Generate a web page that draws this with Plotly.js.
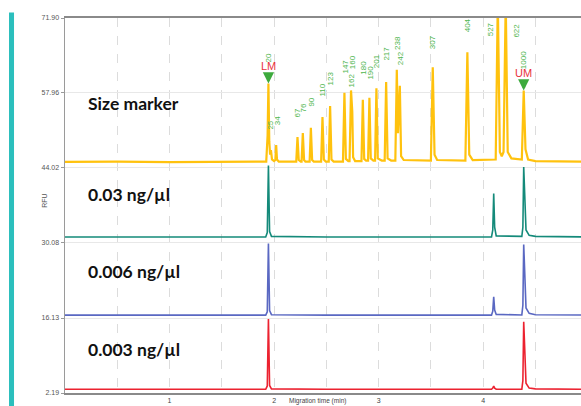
<!DOCTYPE html>
<html>
<head>
<meta charset="utf-8">
<script src="https://cdn.plot.ly/plotly-3.0.1.min.js"></script>
<style>html,body{margin:0;padding:0;background:#fff;}#chart{width:581px;height:406px;}</style>
</head>
<body>
<div id="chart"></div>
<script>
// ---- Data ----
// Size marker trace (yellow): migration time (min) and RFU
var markerTime = [0, 0.5, 1.0, 1.5, 1.9, 1.925, 1.938, 1.946, 1.954, 1.962, 1.970, 1.980, 2.000, 2.012, 2.020, 2.028, 2.045,
  2.212, 2.224, 2.236, 2.255, 2.263, 2.275, 2.287, 2.300, 2.340, 2.352, 2.364, 2.380, 2.450, 2.463, 2.476, 2.495,
  2.523, 2.536, 2.549, 2.570, 2.659, 2.673, 2.687, 2.710, 2.722, 2.736, 2.748, 2.756, 2.775, 2.836, 2.849, 2.862, 2.880,
  2.899, 2.912, 2.925, 2.950, 2.966, 2.979, 2.992, 3.030, 3.058, 3.072, 3.086, 3.120, 3.160, 3.174, 3.185, 3.203, 3.215, 3.240,
  3.500, 3.518, 3.535, 3.560, 3.830, 3.849, 3.867, 3.900, 4.120, 4.140, 4.160, 4.178, 4.195, 4.216, 4.235, 4.270,
  4.370, 4.388, 4.405, 4.430, 4.500, 5.000];
var markerRFU = [45.15, 45.2, 45.1, 45.15, 45.1, 45.2, 50.0, 59.74, 49.0, 46.5, 47.35, 45.6, 45.3, 45.5, 48.27, 45.6, 45.2,
  45.2, 49.77, 45.5, 45.2, 45.2, 50.51, 45.5, 45.2, 45.2, 51.51, 45.5, 45.2, 45.2, 53.48, 45.6, 45.2,
  45.2, 55.52, 45.6, 45.2, 45.2, 58.0, 45.7, 45.3, 45.3, 58.44, 54.5, 46.0, 45.3, 45.3, 56.71, 45.7, 45.4,
  45.4, 57.08, 45.8, 45.4, 45.4, 58.86, 45.8, 45.4, 45.4, 59.98, 45.8, 45.4, 45.4, 62.28, 50.5, 59.31, 46.2, 45.5,
  45.4, 62.76, 46.5, 45.5, 45.4, 65.55, 46.5, 45.5, 45.6, 75.0, 47.0, 46.2, 47.0, 75.0, 47.0, 45.8,
  45.6, 58.44, 47.5, 45.6, 45.3, 45.2];

// 0.03 ng/µl (teal)
var s003Time = [0, 0.5, 1.0, 1.5, 1.92, 1.935, 1.946, 1.957, 1.975, 2.5, 3.0, 3.5, 4.08, 4.092, 4.101, 4.110, 4.125, 4.37, 4.38, 4.388, 4.398, 4.41, 4.44, 4.5, 5.0];
var s003RFU  = [31.2, 31.25, 31.2, 31.2, 31.2, 32.0, 44.5, 32.2, 31.3, 31.2, 31.2, 31.2, 31.2, 32.5, 39.26, 33.0, 31.4, 31.3, 33.0, 44.2, 37.0, 32.5, 31.5, 31.3, 31.2];

// 0.006 ng/µl (blue)
var s0006Time = [0, 0.5, 1.0, 1.5, 1.92, 1.935, 1.946, 1.957, 1.975, 2.5, 3.0, 3.5, 4.08, 4.092, 4.101, 4.110, 4.125, 4.37, 4.38, 4.388, 4.398, 4.41, 4.44, 4.5, 5.0];
var s0006RFU  = [16.67, 16.7, 16.65, 16.67, 16.67, 17.3, 29.98, 17.5, 16.75, 16.67, 16.67, 16.67, 16.67, 17.4, 20.07, 17.6, 16.8, 16.7, 18.5, 29.8, 22.5, 18.0, 17.0, 16.75, 16.67];

// 0.003 ng/µl (red)
var s0003Time = [0, 0.5, 1.0, 1.5, 1.92, 1.935, 1.946, 1.957, 1.975, 2.5, 3.0, 3.5, 4.08, 4.092, 4.101, 4.110, 4.125, 4.37, 4.38, 4.388, 4.398, 4.41, 4.44, 4.5, 5.0];
var s0003RFU  = [2.88, 2.95, 2.9, 2.88, 2.88, 3.5, 15.93, 3.6, 2.95, 2.88, 2.88, 2.88, 2.88, 3.1, 3.49, 3.1, 2.9, 2.9, 4.5, 15.43, 8.5, 4.0, 3.1, 2.95, 2.88];

// Size marker fragment labels (bp) and their positions
var sizeLabels = ['20', '25', '34', '67', '76', '90', '110', '123', '147', '160', '162', '180', '190', '201', '217', '238', '242', '307', '404', '527', '622', '1000'];
var labelTime  = [1.943, 1.963, 2.027, 2.221, 2.278, 2.355, 2.46, 2.536, 2.68, 2.753, 2.737, 2.852, 2.919, 2.983, 3.072, 3.18, 3.212, 3.518, 3.853, 4.073, 4.315, 4.388];
var labelRFU   = [64.38, 51.94, 52.87, 54.17, 55.1, 56.21, 58.44, 60.67, 62.9, 63.64, 60.3, 62.7, 61.78, 63.83, 65.31, 67.35, 64.38, 67.35, 70.5, 69.76, 69.57, 64.0];

// Lower / upper marker
var markerNames = ['LM', 'UM'];
var markerPeakTime = [1.946, 4.388];
var markerPeakRFU = [59.74, 58.44];

// Trace names
var sampleNames = ['Size marker', '0.03 ng/µl', '0.006 ng/µl', '0.003 ng/µl'];
var sampleLabelRFU = [56.02, 39.13, 24.84, 10.36];

// Axis ticks
var yTickVals = [2.19, 16.13, 30.08, 44.02, 57.96, 71.90];
var yTickText = ['2.19', '16.13', '30.08', '44.02', '57.96', '71.90'];
var xTickVals = [0.5, 1, 1.5, 2, 2.5, 3, 3.5, 4, 4.5];
var xTickText = ['', '1', '', '2', '', '3', '', '4', ''];

// ---- Chart ----
var traces = [
  {x: markerTime, y: markerRFU, mode: 'lines', line: {color: '#ffc20e', width: 2.2}, name: sampleNames[0]},
  {x: s003Time, y: s003RFU, mode: 'lines', line: {color: '#148a7a', width: 1.6}, name: sampleNames[1]},
  {x: s0006Time, y: s0006RFU, mode: 'lines', line: {color: '#5a68c2', width: 1.6}, name: sampleNames[2]},
  {x: s0003Time, y: s0003RFU, mode: 'lines', line: {color: '#ec2230', width: 1.6}, name: sampleNames[3]}
];

var annotations = [];
for (var i = 0; i < sizeLabels.length; i++) {
  annotations.push({x: labelTime[i], y: labelRFU[i], xref: 'x', yref: 'y', text: sizeLabels[i], showarrow: false,
    textangle: -90, font: {family: 'Arial, Liberation Sans, sans-serif', size: 8, color: '#4fb64f'}});
}
for (var j = 0; j < markerNames.length; j++) {
  annotations.push({x: markerPeakTime[j], y: markerPeakRFU[j], xref: 'x', yref: 'y', text: markerNames[j],
    showarrow: true, ax: 0, ay: -17, arrowcolor: '#3daa3d', arrowwidth: 3, arrowhead: 2, arrowsize: 0.75, standoff: 0, startstandoff: 2,
    font: {family: 'Liberation Sans Narrow, Arial, sans-serif', size: 11, color: '#e8323c'}});
}
for (var k = 0; k < sampleNames.length; k++) {
  annotations.push({x: 0.205, y: sampleLabelRFU[k], xref: 'x', yref: 'y', xanchor: 'left', text: '<b>' + sampleNames[k] + '</b>',
    showarrow: false, font: {family: 'Lato, sans-serif', size: 17.5, color: '#111'}});
}
annotations.push({x: -0.0504, y: 0.514, xref: 'paper', yref: 'paper', text: 'RFU', textangle: -90, showarrow: false,
  font: {family: 'Arial, Liberation Sans, sans-serif', size: 7, color: '#555'}});
annotations.push({x: 0.49, y: -0.0225, xref: 'paper', yref: 'paper', text: 'Migration time (min)', showarrow: false, yanchor: 'middle',
  font: {family: 'Arial, Liberation Sans, sans-serif', size: 6.5, color: '#444'}});

var layout = {
  width: 581, height: 406,
  margin: {l: 65, r: 0, t: 17.5, b: 13, pad: 0},
  paper_bgcolor: '#fff', plot_bgcolor: '#fff',
  showlegend: false,
  xaxis: {range: [0, 4.936], tickvals: xTickVals, ticktext: xTickText, showgrid: true, gridcolor: '#dcdcdc', griddash: 'dash', gridwidth: 1,
    zeroline: false, showline: true, linecolor: '#8a8a8a', linewidth: 2, mirror: true, ticks: '', ticklen: 0,
    tickfont: {family: 'Arial, Liberation Sans, sans-serif', size: 7, color: '#444'}},
  yaxis: {range: [2.19, 71.90], tickvals: yTickVals, ticktext: yTickText, showgrid: true, gridcolor: '#e8e8e8', gridwidth: 1,
    zeroline: false, showline: true, linecolor: '#9a9a9a', linewidth: 1.5, ticks: 'outside', ticklen: 3, tickcolor: '#9a9a9a',
    tickfont: {family: 'Arial, Liberation Sans, sans-serif', size: 7, color: '#555'}},
  annotations: annotations,
  shapes: [{type: 'rect', xref: 'paper', yref: 'paper', x0: -0.1085, x1: -0.0988, y0: -0.04, y1: 1.0146,
    fillcolor: '#2bbfbd', line: {width: 0}}]
};

Plotly.newPlot('chart', traces, layout, {staticPlot: true, displayModeBar: false});
</script>
</body>
</html>
